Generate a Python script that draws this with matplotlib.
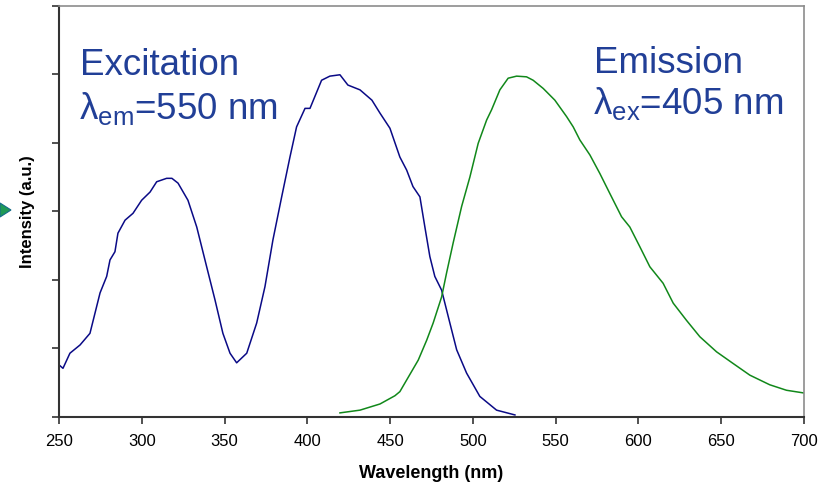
import numpy as np
import matplotlib
matplotlib.use("Agg")
import matplotlib.pyplot as plt
from matplotlib.patches import Polygon

plt.rcParams['font.family'] = ['Liberation Sans', 'DejaVu Sans']
plt.rcParams['mathtext.fontset'] = 'custom'
plt.rcParams['mathtext.rm'] = 'Liberation Sans'
plt.rcParams['mathtext.it'] = 'Liberation Sans:italic'

# Excitation spectrum (lambda_em = 550 nm), arbitrary units
exc_wl = [250.0, 252.4, 256.6, 262.7, 268.7, 274.8, 278.8, 280.8, 283.8, 285.6,
          289.9, 294.7, 299.9, 305.0, 309.0, 315.0, 318.2, 321.9, 327.9, 333.2,
          339.2, 344.2, 349.0, 353.3, 357.3, 363.4, 369.4, 374.4, 379.2, 384.5,
          389.5, 393.5, 398.6, 401.6, 408.6, 413.6, 419.7, 424.5, 431.8, 439.0,
          443.9, 449.9, 455.9, 460.0, 463.8, 468.0, 471.0, 474.0, 477.0, 481.1,
          486.1, 490.2, 496.2, 504.2, 514.3, 525.4]
exc_int = [0.76, 0.71, 0.93, 1.05, 1.22, 1.81, 2.05, 2.29, 2.41, 2.68,
           2.87, 2.97, 3.16, 3.28, 3.43, 3.48, 3.48, 3.41, 3.16, 2.77,
           2.19, 1.71, 1.22, 0.93, 0.79, 0.93, 1.37, 1.90, 2.58, 3.21,
           3.79, 4.23, 4.50, 4.50, 4.91, 4.97, 4.99, 4.84, 4.77, 4.62,
           4.43, 4.21, 3.79, 3.60, 3.36, 3.21, 2.77, 2.34, 2.05, 1.85,
           1.37, 0.98, 0.64, 0.30, 0.10, 0.03]

# Emission spectrum (lambda_ex = 405 nm), arbitrary units
emi_wl = [419.7, 431.8, 443.9, 452.9, 455.9, 460.0, 467.0, 472.1, 476.0, 481.1,
          484.1, 488.1, 493.2, 498.2, 503.2, 508.3, 511.3, 516.3, 521.3, 526.4,
          532.4, 536.4, 542.5, 549.5, 556.6, 560.6, 564.6, 570.7, 576.7, 582.7,
          589.8, 594.8, 600.9, 606.9, 614.9, 621.0, 629.0, 637.1, 647.2, 657.2,
          667.3, 679.3, 689.4, 700.0]
emi_int = [0.06, 0.10, 0.19, 0.31, 0.37, 0.54, 0.83, 1.12, 1.37, 1.75,
           2.10, 2.54, 3.07, 3.50, 3.99, 4.33, 4.48, 4.77, 4.94, 4.97,
           4.96, 4.91, 4.79, 4.62, 4.38, 4.23, 4.04, 3.82, 3.55, 3.26,
           2.92, 2.77, 2.48, 2.19, 1.95, 1.66, 1.41, 1.17, 0.95, 0.78,
           0.61, 0.47, 0.39, 0.35]

x_ticks = [250, 300, 350, 400, 450, 500, 550, 600, 650, 700]
y_ticks = [0, 1, 2, 3, 4, 5, 6]

W, H = 831, 486
fig = plt.figure(figsize=(W / 100, H / 100), dpi=100)
ax = fig.add_axes([59 / W, 1 - 417 / H, (804 - 59) / W, (417 - 5.5) / H])

ax.plot(exc_wl, exc_int, color='#0a0a86', lw=1.1)
ax.plot(emi_wl, emi_int, color='#11881a', lw=1.1)

ax.set_xlim(250, 700)
ax.set_ylim(0, 6)
ax.set_xticks(x_ticks)
ax.set_yticks(y_ticks)
ax.set_yticklabels([])
ax.tick_params(axis='both', direction='out', length=5, width=1.2, color='#333333',
               labelsize=12, pad=7)

for side in ['left', 'bottom']:
    ax.spines[side].set_color('#333333')
    ax.spines[side].set_linewidth(1.5)
for side in ['top', 'right']:
    ax.spines[side].set_color('#8c8c8c')
    ax.spines[side].set_linewidth(1.2)

ax.set_xlabel('Wavelength (nm)', fontsize=13, fontweight='bold', labelpad=12)
fig.text(28 / W, 1 - 212 / H, 'Intensity (a.u.)', rotation=90, fontsize=12,
         fontweight='bold', ha='center', va='center')

txt_color = '#213f97'
fig.text(80 / W, 1 - 75 / H, 'Excitation', fontsize=26.5, color=txt_color, va='baseline')
fig.text(79 / W, 1 - 119 / H, r'λ$_{\mathrm{em}}$=550 nm', fontsize=26.5, color=txt_color,
         va='baseline')
fig.text(594 / W, 1 - 73 / H, 'Emission', fontsize=26.5, color=txt_color, va='baseline')
fig.text(593 / W, 1 - 114 / H, r'λ$_{\mathrm{ex}}$=405 nm', fontsize=26.5, color=txt_color,
         va='baseline')

# small arrow head cut at the left edge
tri = Polygon([[0, 1 - 203 / H], [11 / W, 1 - 210 / H], [0, 1 - 217 / H]],
              closed=True, transform=fig.transFigure, facecolor='#1f9a55',
              edgecolor='#156b8a', lw=0.8)
fig.patches.append(tri)

fig.savefig('out.png', dpi=100)
